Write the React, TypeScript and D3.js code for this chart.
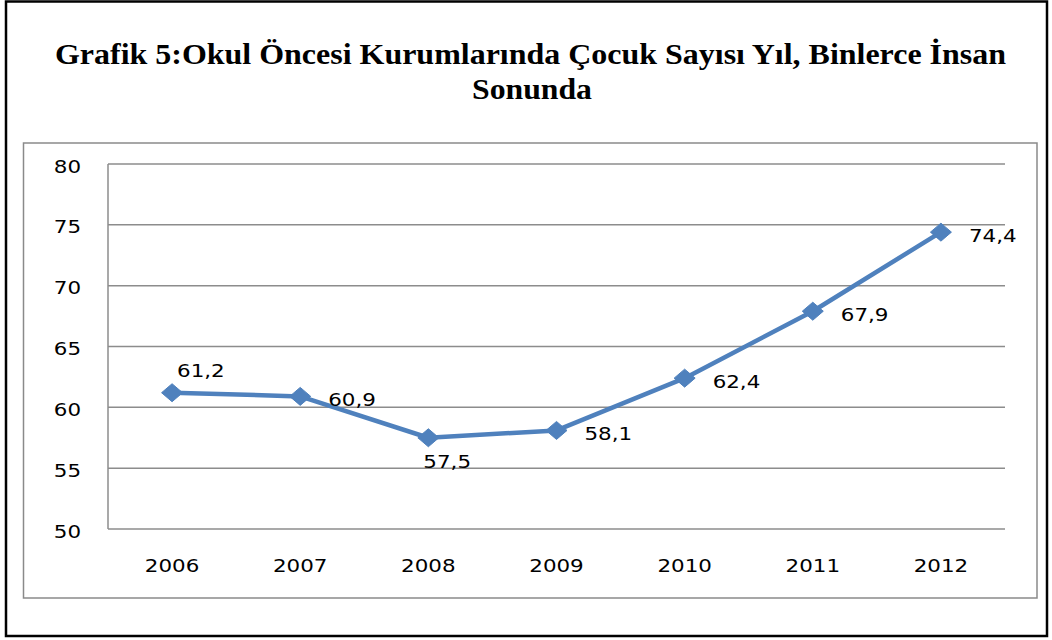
import React from "react";
import * as d3 from "d3";

const years = ["2006", "2007", "2008", "2009", "2010", "2011", "2012"];
const values = [61.2, 60.9, 57.5, 58.1, 62.4, 67.9, 74.4];
const valueLabels = ["61,2", "60,9", "57,5", "58,1", "62,4", "67,9", "74,4"];
const labelPlacement = ["above", "right", "below", "right", "right", "right", "right"];
const yTicks = [50, 55, 60, 65, 70, 75, 80];
const titleLines = [
  "Grafik 5:Okul Öncesi Kurumlarında Çocuk Sayısı Yıl, Binlerce İnsan",
  "Sonunda",
];

const W = 1052;
const H = 640;
const plot = { left: 108, right: 1005, top: 164, bottom: 529 };
const BLUE = "#4F81BD";
const GRID = "#8c8c8c";
const SX = 1.19;

export default function App() {
  const x = d3
    .scaleBand<string>()
    .domain(years)
    .range([plot.left, plot.right])
    .padding(0);
  const y = d3.scaleLinear().domain([50, 80]).range([plot.bottom, plot.top]);
  const cx = (i: number) => (x(years[i]) as number) + x.bandwidth() / 2;

  const line = d3
    .line<number>()
    .x((_, i) => cx(i))
    .y((d) => y(d));

  const diamond = (px: number, py: number) =>
    `M${px - 10.5},${py} L${px},${py - 9} L${px + 10.5},${py} L${px},${py + 9} Z`;

  const labelFont = { fontFamily: "DejaVu Sans", fontSize: 18, fill: "#000" };

  const scaledText = (
    key: string,
    tx: number,
    ty: number,
    text: string,
    anchor: "start" | "middle" | "end"
  ) => (
    <g key={key} transform={`translate(${tx},${ty}) scale(${SX},1)`}>
      <text x={0} y={0} textAnchor={anchor} style={labelFont as any}>
        {text}
      </text>
    </g>
  );

  return (
    <div style={{ position: "absolute", left: 0, top: 0 }}>
      <svg width={W} height={H} style={{ display: "block", background: "#fff" }}>
        <rect x={0} y={0} width={W} height={H} fill="#fff" />
        {/* outer frame */}
        <rect x={6} y={1.5} width={1041} height={634.5} fill="none" stroke="#000" strokeWidth={2.5} />
        {/* title */}
        <text
          x={55}
          y={63.5}
          textLength={951}
          lengthAdjust="spacingAndGlyphs"
          style={{ fontFamily: "Liberation Serif", fontWeight: "bold", fontSize: 30 }}
        >
          {titleLines[0]}
        </text>
        <text
          x={472}
          y={98.5}
          textLength={120}
          lengthAdjust="spacingAndGlyphs"
          style={{ fontFamily: "Liberation Serif", fontWeight: "bold", fontSize: 30 }}
        >
          {titleLines[1]}
        </text>
        {/* chart area border */}
        <rect x={23.5} y={143} width={1013.5} height={455} fill="#fff" stroke="#8a8a8a" strokeWidth={1.5} />
        {/* gridlines */}
        {yTicks.map((t) => (
          <line
            key={"g" + t}
            x1={plot.left}
            x2={plot.right}
            y1={y(t)}
            y2={y(t)}
            stroke={GRID}
            strokeWidth={1.5}
          />
        ))}
        {/* y axis line */}
        <line x1={plot.left} x2={plot.left} y1={plot.top} y2={plot.bottom} stroke={GRID} strokeWidth={1.5} />
        {/* y tick labels */}
        {yTicks.map((t) => scaledText("yl" + t, 81, y(t) + 8.5, String(t), "end"))}
        {/* x tick labels */}
        {years.map((yr, i) => scaledText("xl" + yr, cx(i), 572, yr, "middle"))}
        {/* line */}
        <path d={line(values) || ""} fill="none" stroke={BLUE} strokeWidth={4.5} strokeLinejoin="round" />
        {/* markers */}
        {values.map((v, i) => (
          <path key={"m" + i} d={diamond(cx(i), y(v))} fill={BLUE} stroke={BLUE} strokeWidth={1} />
        ))}
        {/* data labels */}
        {values.map((v, i) => {
          const px = cx(i);
          const py = y(v);
          const pos = labelPlacement[i];
          let tx = px + 28;
          let ty = py + 10;
          if (pos === "above") {
            tx = px + 5;
            ty = py - 16;
          } else if (pos === "below") {
            tx = px - 5;
            ty = py + 30;
          }
          return scaledText("dl" + i, tx, ty, valueLabels[i], "start");
        })}
      </svg>
    </div>
  );
}
